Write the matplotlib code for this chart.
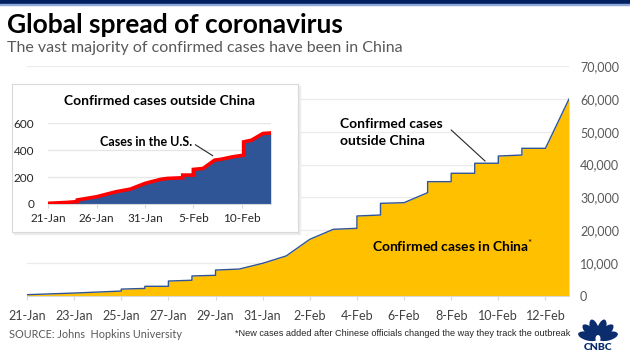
import math
import matplotlib
matplotlib.use('Agg')
import matplotlib.pyplot as plt
from matplotlib.patches import Rectangle, Ellipse

plt.rcParams['font.family'] = ['Lato', 'DejaVu Sans']
plt.rcParams['mathtext.fontset'] = 'custom'
plt.rcParams['mathtext.rm'] = 'Lato'

# main chart: day index from 21-Jan, cumulative confirmed cases in China
china_days = [0, 2, 3, 4, 4, 5, 5, 6, 6, 7, 7, 8, 8, 9, 10, 11, 12, 13, 14, 14,
              15, 15, 16, 17, 17, 18, 18, 19, 19, 20, 20, 21, 21, 22, 23]
china_cases = [400, 900, 1200, 1500, 2100, 2300, 2950, 2950, 4550, 4800, 6100,
               6300, 7900, 8200, 9950, 12200, 17250, 20300, 20600, 24350,
               24650, 28200, 28400, 31450, 34800, 34800, 37350, 37350, 40400,
               40400, 42600, 42900, 44950, 44950, 59950]
main_tick_days = [0, 2, 4, 6, 8, 10, 12, 14, 16, 18, 20, 22]
main_tick_labels = ['21-Jan', '23-Jan', '25-Jan', '27-Jan', '29-Jan', '31-Jan',
                    '2-Feb', '4-Feb', '6-Feb', '8-Feb', '10-Feb', '12-Feb']
main_yticks = [0, 10000, 20000, 30000, 40000, 50000, 60000, 70000]

# inset: confirmed cases outside China
outside_days = [0, 2, 3, 3, 5, 7, 8.5, 10, 11.6, 12.3, 13.9, 13.9, 15, 15, 16,
                17.2, 17.9, 19, 20.2, 20.2, 21, 22.2, 23]
outside_cases = [5, 12, 18, 30, 54, 91, 111, 153, 183, 190, 195, 215, 215, 257,
                 264, 326, 333, 350, 363, 462, 474, 524, 528]
inset_tick_days = [0, 5, 10, 15, 20]
inset_tick_labels = ['21-Jan', '26-Jan', '31-Jan', '5-Feb', '10-Feb']
inset_yticks = [0, 200, 400, 600]

W, H = 630, 354
YELLOW = '#FFC000'
BLUE = '#2F5597'
GRAY = '#595959'
NAVY = '#002060'


def fx(px):
    return px / W


def fy(py):
    return 1 - py / H


fig = plt.figure(figsize=(6.3, 3.54), dpi=100)

# top banner
fig.patches.append(Rectangle((0, fy(4)), 1, 4 / H, transform=fig.transFigure,
                             color=NAVY, zorder=5))
fig.patches.append(Rectangle((0, fy(5.2)), 1, 1.2 / H, transform=fig.transFigure,
                             color='#8FA8D8', zorder=5))

fig.text(fx(7), fy(25), 'Global spread of coronavirus', fontsize=19,
         fontweight='bold', va='center', ha='left', color='black')
fig.text(fx(7), fy(48), 'The vast majority of confirmed cases have been in China',
         fontsize=11.5, va='center', ha='left', color=GRAY)

# main chart
ax = fig.add_axes([fx(27), fy(296), fx(569) - fx(27), fy(66) - fy(296)])
ax.fill_between(china_days, 0, china_cases, color=YELLOW, lw=0, zorder=2)
ax.plot(china_days, china_cases, color=BLUE, lw=1.0, zorder=3)
ax.set_xlim(0, 23)
ax.set_ylim(0, 70000)
ax.set_yticks(main_yticks)
ax.set_yticklabels(['{:,}'.format(v) for v in main_yticks])
ax.set_xticks(main_tick_days)
ax.set_xticklabels(main_tick_labels)
ax.yaxis.tick_right()
ax.tick_params(axis='y', length=0, pad=8, labelsize=9, labelcolor=GRAY)
ax.tick_params(axis='x', length=3, width=0.8, color='#d9d9d9', pad=7,
               labelsize=9, labelcolor='#404040')
ax.grid(axis='y', color='#ebebeb', lw=0.9)
ax.set_axisbelow(True)
for s in ['top', 'left', 'right']:
    ax.spines[s].set_visible(False)
ax.spines['bottom'].set_color('#d9d9d9')

ax.annotate('', xy=(19.53, 40470), xytext=(17.91, 51120),
            arrowprops=dict(arrowstyle='-', color='#262626', lw=0.8))
ax.text(13.28, 49800, 'Confirmed cases\noutside China', fontsize=10,
        fontweight='bold', ha='left', va='center', linespacing=1.45, color='black')
ax.text(14.64, 15200, r'Confirmed cases in China$^{*}$', fontsize=10,
        fontweight='bold', ha='left', va='center', color='black')

# inset frame
box = fig.add_axes([fx(12), fy(232), fx(298) - fx(12), fy(84) - fy(232)])
box.set_xticks([])
box.set_yticks([])
box.set_facecolor('white')
for s in box.spines.values():
    s.set_color('#d9d9d9')
    s.set_linewidth(0.8)
fig.patches.append(Rectangle((fx(14), fy(234)), fx(298) - fx(12), fy(84) - fy(232),
                             transform=fig.transFigure, color='#ececec', zorder=0.5))
box.set_zorder(1)

ins = fig.add_axes([fx(48.3), fy(204), fx(270.7) - fx(48.3), fy(123.3) - fy(204)])
ins.set_zorder(2)
ins.patch.set_alpha(0)
ins.fill_between(outside_days, 0, outside_cases, color=BLUE, lw=0, zorder=2)
ins.plot(outside_days, outside_cases, color='#FF0000', lw=2.6, zorder=3,
         solid_joinstyle='miter')
ins.set_xlim(0, 23)
ins.set_ylim(0, 600)
ins.set_yticks(inset_yticks)
ins.set_xticks(inset_tick_days)
ins.set_xticklabels(inset_tick_labels)
ins.tick_params(axis='y', length=0, pad=10, labelsize=8.5, labelcolor='#262626')
ins.tick_params(axis='x', length=3, width=0.8, color='#d9d9d9', pad=3.5,
                labelsize=8.5, labelcolor='#262626')
ins.grid(axis='y', color='#e6e6e6', lw=0.9)
ins.set_axisbelow(True)
for s in ['top', 'left', 'right']:
    ins.spines[s].set_visible(False)
ins.spines['bottom'].set_color('#d9d9d9')
ins.set_title('Confirmed cases outside China', fontsize=10, fontweight='bold',
              pad=13, color='black')
ins.annotate('', xy=(17.25, 348), xytext=(14.96, 452),
             arrowprops=dict(arrowstyle='-', color='#262626', lw=0.8))
ins.text(14.85, 463, 'Cases in the U.S.', fontsize=9, fontweight='bold',
         ha='right', va='center', color='black')

# footer
fig.text(fx(9), fy(335), 'SOURCE: Johns  Hopkins University', fontsize=7.8,
         color=GRAY, ha='left', va='center')
fig.text(fx(570), fy(333), '*New cases added after Chinese officials changed the way they track the outbreak',
         fontsize=6.6, color='#262626', ha='right', va='center',
         family=['Liberation Sans Narrow', 'Liberation Sans', 'DejaVu Sans'])

# CNBC peacock
logo = fig.add_axes([fx(576), fy(352), fx(620) - fx(576), fy(318) - fy(352)])
logo.set_xlim(-22, 22)
logo.set_ylim(-16, 18)
logo.axis('off')
for ang in [15, 43, 71, 109, 137, 165]:
    r = math.radians(ang)
    logo.add_patch(Ellipse((10.5 * math.cos(r), 10.5 * math.sin(r) - 3), 20, 8.5,
                           angle=ang, color='#0b2d6e', lw=0))
logo.add_patch(Ellipse((0, -2.5), 5, 7, color='white', lw=0))
logo.text(0, -11.5, 'CNBC', fontsize=7.5, fontweight='heavy', ha='center',
          va='center', color='#0b2d6e')

fig.savefig('out.png', dpi=100, facecolor='white')
